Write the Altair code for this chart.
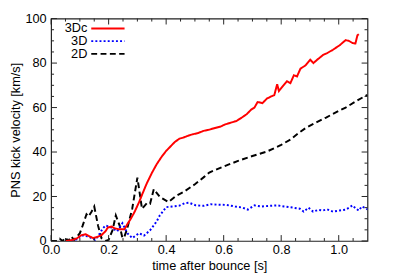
import altair as alt
import pandas as pd

# 3Dc (red, solid)
t_3dc = [0.05, 0.07, 0.09, 0.105, 0.12, 0.135, 0.146, 0.16, 0.175, 0.19, 0.197, 0.21, 0.22, 0.235, 0.255, 0.265, 0.277,
         0.29, 0.306, 0.32, 0.333, 0.35, 0.367, 0.385, 0.40, 0.415, 0.43, 0.446, 0.46, 0.48, 0.493, 0.51, 0.53, 0.548,
         0.57, 0.59, 0.605, 0.625, 0.645, 0.663, 0.68, 0.695, 0.707, 0.718, 0.735, 0.75, 0.765, 0.776, 0.786, 0.792,
         0.805, 0.82, 0.832, 0.844, 0.855, 0.867, 0.885, 0.901, 0.912, 0.925, 0.946, 0.96, 0.98, 1.003, 1.024, 1.035,
         1.048, 1.058, 1.065, 1.07]
v_3dc = [0.0, 0.3, 1.2, 2.6, 3.0, 2.0, 1.3, 1.8, 2.6, 4.5, 6.0, 6.5, 5.7, 5.3, 5.3, 7.5, 10.0,
         13.0, 17.5, 22.0, 26.0, 30.5, 34.5, 38.0, 40.5, 42.5, 44.5, 46.0, 46.5, 47.5, 48.0, 48.5, 49.5, 50.0,
         50.8, 51.5, 52.4, 53.2, 54.0, 55.5, 57.0, 59.0, 60.0, 62.5, 62.0, 64.0, 65.0, 65.6, 70.5, 67.4,
         69.5, 71.8, 71.0, 74.5, 74.0, 77.5, 79.0, 81.5, 80.0, 81.5, 83.7, 84.5, 86.0, 88.0, 90.3, 90.0,
         89.0, 88.8, 92.5, 93.0]

# 3D (blue, dotted)
t_3d = [0.07, 0.09, 0.105, 0.12, 0.13, 0.153, 0.165, 0.18, 0.19, 0.21, 0.23, 0.248, 0.265, 0.282, 0.295, 0.306,
        0.323, 0.344, 0.357, 0.367, 0.378, 0.39, 0.40, 0.42, 0.446, 0.465, 0.48, 0.503, 0.53, 0.555, 0.58, 0.61,
        0.64, 0.665, 0.684, 0.707, 0.73, 0.76, 0.786, 0.81, 0.84, 0.865, 0.878, 0.895, 0.911, 0.93, 0.945, 0.96,
        0.98, 1.003, 1.024, 1.036, 1.048, 1.06, 1.07, 1.08, 1.09, 1.1]
v_3d = [0.0, 0.8, 2.6, 2.2, 2.0, 0.5, 2.5, 5.7, 7.0, 6.0, 4.4, 8.0, 3.5, 1.3, 2.5, 3.5,
        2.4, 4.8, 7.0, 8.8, 11.5, 13.5, 15.2, 15.5, 15.9, 17.0, 17.2, 16.0, 15.8, 16.5, 16.3, 16.2,
        15.5, 15.0, 14.1, 16.0, 15.5, 15.8, 16.0, 15.5, 15.0, 14.5, 13.2, 15.0, 13.2, 14.0, 13.7, 14.2,
        13.2, 13.7, 14.1, 15.0, 16.0, 14.5, 13.7, 15.5, 15.0, 14.2]

# 2D (black, dashed)
t_2d = [0.0, 0.02, 0.03, 0.04, 0.05, 0.06, 0.07, 0.08, 0.09, 0.10, 0.11, 0.123, 0.13, 0.14, 0.15, 0.163, 0.175,
        0.19, 0.20, 0.214, 0.225, 0.232, 0.238, 0.248, 0.255, 0.265, 0.282, 0.30, 0.316, 0.333, 0.344, 0.357,
        0.378, 0.408, 0.435, 0.46, 0.50, 0.53, 0.55, 0.60, 0.65, 0.70, 0.75, 0.80, 0.833, 0.86, 0.884, 0.92,
        0.956, 1.0, 1.024, 1.06, 1.092, 1.1]
v_2d = [0.0, 0.0, 1.0, 0.0, 1.5, 0.0, 2.0, 0.5, 2.0, 3.5, 7.0, 12.0, 11.0, 13.0, 15.5, 7.0, 1.3,
        0.0, 0.5, 5.0, 11.5, 9.0, 7.0, 1.3, 2.0, 5.7, 14.5, 28.5, 14.5, 17.0, 16.7, 23.3,
        19.8, 17.5, 20.3, 22.0, 25.5, 28.6, 30.8, 33.5, 36.0, 38.2, 40.2, 43.2, 45.7, 48.5, 50.7, 53.2,
        55.5, 58.5, 60.0, 62.8, 65.2, 65.7]

x_major = [0.0, 0.2, 0.4, 0.6, 0.8, 1.0]
x_minor = [0.05, 0.1, 0.15, 0.25, 0.3, 0.35, 0.45, 0.5, 0.55, 0.65, 0.7, 0.75, 0.85, 0.9, 0.95, 1.05]
y_major = [0, 20, 40, 60, 80, 100]
y_minor = [5, 10, 15, 25, 30, 35, 45, 50, 55, 65, 70, 75, 85, 90, 95]

series = ["3Dc", "3D", "2D"]
colors = ["#ff0000", "#0000ff", "#000000"]
dashes = [[1, 0], [2, 2.2], [6, 3.5]]

W, H = 323, 227
FONT = "Liberation Sans"
FS = 13

xs = alt.Scale(domain=[0, 1.1], nice=False, zero=False)
ys = alt.Scale(domain=[0, 100], nice=False)

xaxis = alt.Axis(values=x_major, format=".1f", title="time after bounce [s]", grid=False, ticks=False,
                 domain=False, labelPadding=3, titlePadding=3, labelFlush=False)
yaxis = alt.Axis(values=y_major, format="d", title="PNS kick velocity [km/s]", grid=False, ticks=False,
                 domain=False, labelPadding=5, titlePadding=3, labelFlush=False)

def line_layer(t, v, name, color, dash):
    df = pd.DataFrame({"t": t, "v": v, "s": name})
    return alt.Chart(df).mark_line(color=color, strokeWidth=2, strokeDash=dash, clip=True).encode(
        x=alt.X("t:Q", scale=xs, axis=xaxis),
        y=alt.Y("v:Q", scale=ys, axis=yaxis),
    )

layers = [
    line_layer(t_2d, v_2d, "2D", colors[2], dashes[2]),
    line_layer(t_3d, v_3d, "3D", colors[1], dashes[1]),
    line_layer(t_3dc, v_3dc, "3Dc", colors[0], dashes[0]),
]

def xticks(vals, length):
    df = pd.DataFrame({"t": vals})
    base = alt.Chart(df).mark_rule(color="#222222", strokeWidth=1)
    return [
        base.encode(x=alt.X("t:Q", scale=xs), y=alt.value(H), y2=alt.value(H - length)),
        base.encode(x=alt.X("t:Q", scale=xs), y=alt.value(0), y2=alt.value(length)),
    ]

def yticks(vals, length):
    df = pd.DataFrame({"v": vals})
    base = alt.Chart(df).mark_rule(color="#222222", strokeWidth=1)
    return [
        base.encode(y=alt.Y("v:Q", scale=ys), x=alt.value(0), x2=alt.value(length)),
        base.encode(y=alt.Y("v:Q", scale=ys), x=alt.value(W), x2=alt.value(W - length)),
    ]

tick_layers = xticks(x_major, 6) + xticks(x_minor, 3) + yticks(y_major, 6) + yticks(y_minor, 3)

legend_layers = []
for i, (name, color, dash) in enumerate(zip(series, colors, dashes)):
    yy = 10 + 13 * i
    legend_layers.append(
        alt.Chart(pd.DataFrame({"s": [name]})).mark_text(
            align="right", baseline="middle", font=FONT, fontSize=FS, color="black"
        ).encode(text="s:N", x=alt.value(37), y=alt.value(yy))
    )
    legend_layers.append(
        alt.Chart(pd.DataFrame({"s": [name]})).mark_rule(
            color=color, strokeWidth=2, strokeDash=dash
        ).encode(x=alt.value(41), x2=alt.value(75), y=alt.value(yy))
    )

chart = alt.layer(*layers, *tick_layers, *legend_layers).properties(
    width=W, height=H,
    autosize=alt.AutoSizeParams(type="none"),
    padding={"left": 44, "top": 8, "right": 24, "bottom": 36},
).configure_view(
    stroke="#222222", strokeWidth=1.2
).configure_axis(
    labelFont=FONT, titleFont=FONT, labelFontSize=FS, titleFontSize=FS,
    labelColor="black", titleColor="black", titleFontWeight="normal"
)

chart.save("out.html", embed_options={"renderer": "svg", "actions": False})
